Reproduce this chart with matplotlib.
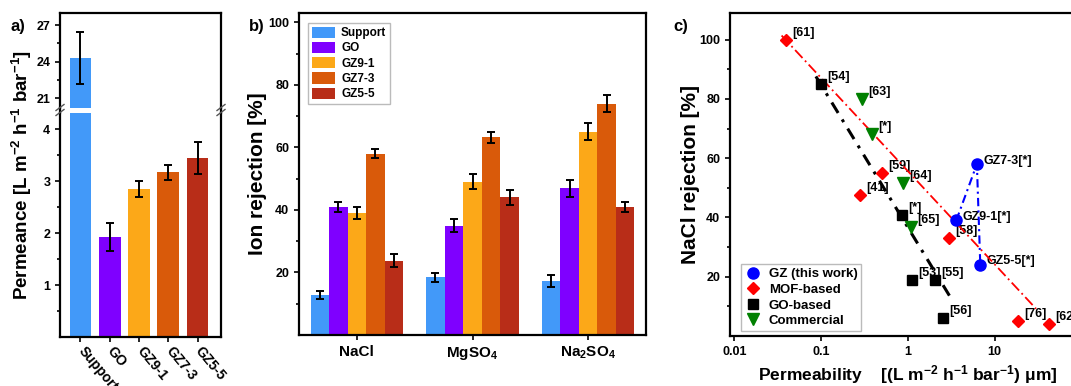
import numpy as np
import matplotlib
matplotlib.use('Agg')
import matplotlib.pyplot as plt
from matplotlib.lines import Line2D

plt.rcParams['font.family'] = ['Liberation Sans', 'DejaVu Sans']
plt.rcParams['font.weight'] = 'bold'
plt.rcParams['axes.labelweight'] = 'bold'
plt.rcParams['mathtext.fontset'] = 'custom'
plt.rcParams['mathtext.rm'] = 'Liberation Sans:bold'
plt.rcParams['mathtext.bf'] = 'Liberation Sans:bold'
plt.rcParams['mathtext.default'] = 'rm'

# ---------------- data ----------------
samples = ['Support', 'GO', 'GZ9-1', 'GZ7-3', 'GZ5-5']
sample_colors = ['#4299f9', '#7f00ff', '#fca818', '#d95a0a', '#b82d18']

# a) permeance
permeance = [24.3, 1.93, 2.85, 3.17, 3.45]
permeance_err = [2.1, 0.27, 0.15, 0.14, 0.31]

# b) ion rejection
salts = ['NaCl', 'MgSO$_4$', 'Na$_2$SO$_4$']
rejection = {
    'Support': [12.9, 18.4, 17.3],
    'GO':      [41.0, 35.0, 47.0],
    'GZ9-1':   [39.1, 49.1, 65.0],
    'GZ7-3':   [58.0, 63.2, 74.0],
    'GZ5-5':   [23.8, 44.0, 41.0],
}
rejection_err = {
    'Support': [1.3, 1.4, 1.8],
    'GO':      [1.5, 2.0, 2.7],
    'GZ9-1':   [2.0, 2.4, 2.7],
    'GZ7-3':   [1.4, 1.8, 2.7],
    'GZ5-5':   [2.0, 2.3, 1.5],
}

# c) permeability vs NaCl rejection
gz_x = [3.61, 6.24, 6.83]
gz_y = [39, 58, 24]
gz_labels = ['GZ9-1[*]', 'GZ7-3[*]', 'GZ5-5[*]']

mof_x = [0.039, 0.278, 0.507, 2.97, 18.5, 42.1]
mof_y = [100, 47.7, 55.1, 33, 5.1, 4.1]
mof_labels = ['[61]', '[41]', '[59]', '[58]', '[76]', '[62]']
mof_fit_x = [0.035, 30.0]
mof_fit_y = [101.4, 9.2]

go_x = [0.099, 0.86, 1.12, 2.07, 2.51]
go_y = [85, 40.7, 19, 18.9, 6.0]
go_labels = ['[54]', '[*]', '[53]', '[55]', '[56]']
go_fit_x = [0.087, 3.1]
go_fit_y = [87.6, 13.0]

com_x = [0.295, 0.389, 0.885, 1.09]
com_y = [80, 68.3, 51.7, 36.7]
com_labels = ['[63]', '[*]', '[64]', '[65]']

# ---------------- figure ----------------
W, H = 1071, 386
fig = plt.figure(figsize=(W / 100, H / 100), dpi=100)


def px_axes(l, t, r, b):
    return fig.add_axes([l / W, 1 - b / H, (r - l) / W, (b - t) / H])


def style(ax):
    for s in ax.spines.values():
        s.set_linewidth(1.6)
    ax.tick_params(which='both', direction='out', width=1.2, labelsize=9)
    ax.tick_params(which='major', length=3.5)
    ax.tick_params(which='minor', length=2)


err_kw = dict(ecolor='black', elinewidth=1.4, capthick=1.4)

# ---- a) permeance with broken axis ----
ax_at = px_axes(60, 13, 221, 108)
ax_ab = px_axes(60, 113, 221, 337)
xa = np.arange(len(samples))
for ax in (ax_at, ax_ab):
    ax.bar(xa, permeance, 0.74, color=sample_colors, yerr=permeance_err,
           capsize=3, error_kw=err_kw)
    ax.set_xlim(-0.7, 4.8)
    style(ax)
ax_at.set_ylim(20.2, 28)
ax_at.set_yticks([21, 24, 27])
ax_at.set_yticks([22.5, 25.5], minor=True)
ax_at.spines['bottom'].set_visible(False)
ax_at.tick_params(which='both', bottom=False, labelbottom=False)
ax_ab.set_ylim(0, 4.31)
ax_ab.set_yticks([1, 2, 3, 4])
ax_ab.set_yticks([0.5, 1.5, 2.5, 3.5], minor=True)
ax_ab.spines['top'].set_visible(False)
ax_ab.set_xticks(xa)
ax_ab.set_xticklabels(samples, rotation=-50, ha='left', va='center',
                      rotation_mode='anchor', fontsize=10)
ax_ab.tick_params(axis='x', pad=5)

# spines across the gap + break marks
for xp in (60, 221):
    fig.add_artist(Line2D([xp / W, xp / W], [1 - 113 / H, 1 - 108 / H],
                          transform=fig.transFigure, color='k', lw=1.6))
    for yp in (107.5, 112.5):
        fig.add_artist(Line2D([(xp - 4) / W, (xp + 4) / W],
                              [1 - (yp + 3) / H, 1 - (yp - 3) / H],
                              transform=fig.transFigure, color='#555555', lw=1))

fig.text(22 / W, 1 - 175 / H, 'Permeance [L m$^{-2}$ h$^{-1}$ bar$^{-1}$]',
         rotation=90, ha='center', va='center', fontsize=13.5)
fig.text(18 / W, 1 - 27 / H, 'a)', ha='center', va='center', fontsize=12)

# ---- b) ion rejection ----
ax_b = px_axes(299, 13, 646, 335)
style(ax_b)
xb = np.arange(len(salts))
bw = 0.16
for i, name in enumerate(samples):
    ax_b.bar(xb + (i - 2) * bw, rejection[name], bw, color=sample_colors[i],
             yerr=rejection_err[name], capsize=3, error_kw=err_kw, label=name)
ax_b.set_xlim(-0.5, 2.5)
ax_b.set_ylim(0, 103)
ax_b.set_yticks([20, 40, 60, 80, 100])
ax_b.set_yticks([10, 30, 50, 70, 90], minor=True)
ax_b.set_xticks(xb)
ax_b.set_xticklabels(salts, fontsize=11)
ax_b.set_ylabel('Ion rejection [%]', fontsize=15)
ax_b.yaxis.set_label_coords(-(299 - 267) / 347, 0.5)
ax_b.legend(loc='upper left', bbox_to_anchor=(0.026, 0.969), borderaxespad=0,
            frameon=True, fancybox=False, edgecolor='#aaaaaa',
            handlelength=2.0, handleheight=1.1, labelspacing=0.22,
            handletextpad=0.5, borderpad=0.3, prop={'weight': 'bold', 'size': 8.5})
fig.text(257 / W, 1 - 27 / H, 'b)', ha='center', va='center', fontsize=12)

# ---- c) permeability vs rejection ----
ax_c = px_axes(730, 13, 1085, 336)
style(ax_c)
ax_c.set_xscale('log')
ax_c.set_xlim(0.0089, 110)
ax_c.set_ylim(0, 109)
ax_c.set_xticks([0.01, 0.1, 1, 10])
ax_c.set_xticklabels(['0.01', '0.1', '1', '10'])
ax_c.set_yticks([20, 40, 60, 80, 100])
ax_c.set_yticks([10, 30, 50, 70, 90], minor=True)
ax_c.tick_params(axis='x', which='minor', length=0)

ax_c.plot(mof_fit_x, mof_fit_y, color='red', lw=1.3,
          linestyle=(0, (6, 2, 1, 2)), zorder=2)
ax_c.plot(go_fit_x, go_fit_y, color='black', lw=2.2,
          linestyle=(0, (4, 2.5, 1, 2.5)), zorder=2)
ax_c.plot(gz_x, gz_y, color='blue', lw=1.5,
          linestyle=(0, (4, 2, 1, 2)), zorder=2)

ax_c.plot(gz_x, gz_y, 'o', color='blue', ms=8, ls='none', zorder=3,
          label='GZ (this work)')
ax_c.plot(mof_x, mof_y, 'D', color='red', ms=6.5, ls='none', zorder=3,
          label='MOF-based')
ax_c.plot(go_x, go_y, 's', color='black', ms=6.5, ls='none', zorder=3,
          label='GO-based')
ax_c.plot(com_x, com_y, 'v', color='#008000', ms=8.5, ls='none', zorder=3,
          label='Commercial')

for xs, ys, labs, dy in [(gz_x, gz_y, gz_labels, 2.5), (mof_x, mof_y, mof_labels, 5),
                         (go_x, go_y, go_labels, 5), (com_x, com_y, com_labels, 5)]:
    for xv, yv, lab in zip(xs, ys, labs):
        ax_c.annotate(lab, (xv, yv), xytext=(4.5, dy), textcoords='offset points',
                      ha='left', va='center', fontsize=9, fontweight='bold',
                      zorder=1, annotation_clip=False)

ax_c.legend(loc='lower left', bbox_to_anchor=(0.031, 0.0155), borderaxespad=0,
            fancybox=False, edgecolor='#aaaaaa', labelspacing=0.25,
            handletextpad=0.6, borderpad=0.3, handlelength=1.2,
            prop={'weight': 'bold', 'size': 9.5})
ax_c.set_xlabel('Permeability    [(L m$^{-2}$ h$^{-1}$ bar$^{-1}$) \u03bcm]',
                fontsize=12.5, labelpad=4)
ax_c.set_ylabel('NaCl rejection [%]', fontsize=15)
ax_c.yaxis.set_label_coords(-(730 - 700) / 355, 0.5)
fig.text(681 / W, 1 - 27 / H, 'c)', ha='center', va='center', fontsize=12)

fig.savefig('out.png', dpi=100)
